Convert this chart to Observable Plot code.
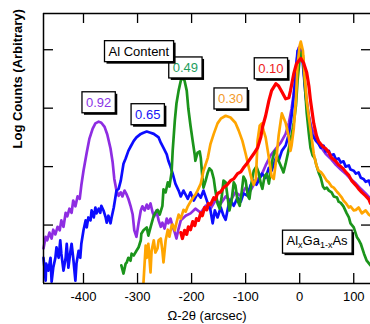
<!DOCTYPE html>
<html><head><meta charset="utf-8">
<script src="https://cdn.jsdelivr.net/npm/d3@7"></script>
<script src="https://cdn.jsdelivr.net/npm/@observablehq/plot@0.6"></script>
<style>
html,body{margin:0;padding:0;background:#fff;}
</style>
</head><body>
<div id="chart"></div>
<script>
// ---- data (arcsec, log counts) ----
const compositions = ["0.92", "0.65", "0.49", "0.30", "0.10"];

const al092 = [[-474,0.60],[-470,0.80],[-467,0.74],[-463,0.87],[-459,0.77],[-456,0.92],[-452,0.84],[-448,0.97],[-444,0.91],[-441,1.08],[-437,0.97],[-433,1.21],[-430,1.15],[-426,1.28],[-422,1.21],[-419,1.42],[-415,1.32],[-411,1.49],[-407,1.45],[-404,1.68],[-400,1.93],[-394,2.24],[-389,2.48],[-383,2.65],[-378,2.74],[-372,2.77],[-367,2.75],[-361,2.68],[-356,2.55],[-350,2.31],[-346,2.07],[-343,1.79],[-339,1.59],[-335,1.50],[-331,1.56],[-328,1.49],[-324,1.59],[-320,1.52],[-317,1.45],[-313,1.33],[-309,1.18],[-306,0.91],[-302,0.80],[-298,1.04],[-294,1.25],[-291,1.32],[-287,1.25],[-283,1.35],[-280,1.28],[-276,1.37],[-272,1.21],[-269,1.15],[-265,1.25],[-261,1.08],[-257,0.97],[-254,1.04],[-250,0.94],[-246,1.11],[-243,1.03],[-239,1.11],[-235,0.97],[-231,0.87],[-228,0.77],[-224,0.94],[-220,1.08],[-211,1.16],[-202,1.20],[-193,1.28],[-183,1.21],[-174,1.33],[-165,1.28],[-156,1.42],[-146,1.37],[-137,1.49],[-128,1.42],[-119,1.56],[-109,1.50],[-100,1.64],[-91,1.59],[-81,1.76],[-72,1.83],[-63,2.02],[-54,2.19],[-44,2.31],[-35,2.41],[-26,2.56],[-20,2.75],[-15,2.99],[-9,3.38],[-6,3.78],[-2,4.03],[2,4.07],[6,3.85],[9,3.47],[13,3.13],[17,2.87],[20,2.72],[26,2.56],[31,2.46],[39,2.34],[48,2.22],[57,2.14],[67,2.03],[76,1.95],[85,1.88],[94,1.79],[104,1.71],[113,1.62],[122,1.54],[131,1.45]];

const al065 = [[-474,0.44],[-470,0.05],[-469,0.34],[-465,0.22],[-461,0.44],[-459,0.03],[-456,0.27],[-452,0.44],[-450,0.62],[-446,0.44],[-443,0.74],[-441,0.51],[-437,0.22],[-433,0.44],[-431,0.68],[-428,0.27],[-424,0.56],[-422,0.68],[-419,0.44],[-415,0.05],[-413,0.34],[-409,0.56],[-406,0.44],[-404,0.68],[-400,0.91],[-396,1.08],[-394,0.96],[-391,1.13],[-387,1.08],[-385,1.25],[-381,1.13],[-378,1.30],[-376,1.20],[-372,1.28],[-369,1.21],[-367,1.33],[-363,1.25],[-359,1.13],[-357,1.04],[-354,1.16],[-350,1.03],[-348,1.13],[-344,1.30],[-341,1.47],[-339,1.59],[-335,1.62],[-331,1.76],[-326,2.05],[-322,2.14],[-317,2.27],[-313,2.34],[-307,2.44],[-302,2.50],[-294,2.56],[-289,2.58],[-283,2.60],[-276,2.58],[-270,2.56],[-261,2.50],[-257,2.41],[-252,2.32],[-246,2.21],[-243,2.10],[-239,2.00],[-235,1.88],[-230,1.71],[-224,1.59],[-220,1.49],[-215,1.59],[-207,1.45],[-202,1.56],[-196,1.42],[-189,1.54],[-183,1.47],[-178,1.59],[-170,1.37],[-165,1.25],[-161,1.03],[-157,1.25],[-152,1.13],[-146,1.30],[-141,1.16],[-137,1.09],[-131,1.37],[-128,1.42],[-122,1.33],[-115,1.47],[-109,1.40],[-104,1.54],[-96,1.50],[-91,1.68],[-85,1.76],[-80,1.69],[-76,1.76],[-70,1.88],[-63,1.81],[-57,1.98],[-52,1.93],[-44,2.15],[-39,2.10],[-33,2.27],[-26,2.36],[-20,2.56],[-15,2.87],[-11,3.21],[-7,3.64],[-4,3.98],[0,4.03],[4,3.95],[7,3.64],[11,3.21],[15,2.92],[19,2.75],[22,2.56],[30,2.44],[35,2.39],[39,2.32],[44,2.36],[48,2.26],[54,2.27],[57,2.19],[63,2.21],[67,2.12],[72,2.14],[76,2.07],[81,2.09],[85,2.00],[91,2.02],[94,1.95],[100,1.93],[104,1.88],[109,1.90],[113,1.81],[118,1.79],[122,1.74],[128,1.76],[131,1.68]];

const al049 = [[-330,0.31],[-326,0.17],[-322,0.34],[-320,0.36],[-317,0.44],[-313,0.39],[-311,0.51],[-307,0.48],[-302,0.56],[-298,0.62],[-294,0.74],[-293,0.85],[-289,0.91],[-283,0.96],[-280,0.82],[-276,0.96],[-270,1.16],[-267,1.21],[-263,1.26],[-259,1.18],[-254,1.33],[-252,1.61],[-248,1.56],[-244,1.73],[-241,1.66],[-237,1.90],[-235,2.27],[-231,2.79],[-228,3.08],[-224,3.30],[-220,3.47],[-217,3.52],[-213,3.47],[-209,3.30],[-206,2.99],[-202,2.70],[-198,2.44],[-194,2.19],[-193,2.10],[-189,2.24],[-185,2.26],[-183,2.15],[-180,1.81],[-178,1.64],[-174,1.76],[-170,1.90],[-167,1.97],[-163,1.93],[-159,1.79],[-156,1.59],[-152,1.37],[-148,1.28],[-144,1.50],[-141,1.76],[-137,1.73],[-133,1.45],[-130,1.25],[-126,1.42],[-122,1.73],[-119,1.68],[-115,1.42],[-111,1.33],[-107,1.59],[-104,1.83],[-100,1.76],[-96,1.50],[-93,1.45],[-89,1.73],[-85,1.93],[-80,2.00],[-76,1.90],[-72,1.71],[-69,1.62],[-65,1.83],[-61,1.88],[-57,1.71],[-54,1.90],[-50,2.14],[-46,2.27],[-43,2.24],[-39,2.10],[-33,1.97],[-30,1.90],[-26,2.05],[-22,2.22],[-19,2.36],[-15,2.53],[-11,2.75],[-7,3.04],[-4,3.47],[0,3.85],[2,3.95],[6,3.90],[9,3.47],[13,2.92],[17,2.56],[20,2.32],[24,2.19],[28,2.14],[31,2.02],[35,1.90],[39,1.81],[43,1.66],[46,1.62],[50,1.64],[54,1.59],[59,1.56],[63,1.49],[69,1.47],[72,1.40],[76,1.38],[81,1.32],[87,1.20],[91,1.13],[94,1.03],[100,0.96],[106,0.79],[109,0.75],[113,0.68],[119,0.51],[124,0.39],[131,0.31]];

const al030 = [[-289,0.02],[-285,0.65],[-283,0.44],[-280,0.68],[-276,0.19],[-274,0.56],[-270,0.74],[-267,0.53],[-263,0.60],[-261,0.74],[-257,0.77],[-254,0.56],[-252,0.36],[-248,0.74],[-244,0.92],[-241,0.80],[-237,0.99],[-235,1.01],[-231,0.91],[-228,1.04],[-224,1.18],[-220,1.11],[-215,1.26],[-211,1.23],[-207,1.32],[-202,1.40],[-196,1.49],[-193,1.52],[-189,1.59],[-183,1.71],[-178,1.93],[-170,2.15],[-165,2.39],[-159,2.56],[-152,2.74],[-146,2.82],[-137,2.87],[-128,2.84],[-119,2.75],[-113,2.62],[-106,2.44],[-100,2.22],[-94,1.98],[-89,1.79],[-85,1.69],[-81,1.79],[-78,2.44],[-74,2.70],[-70,2.74],[-67,2.62],[-63,2.50],[-57,2.15],[-52,1.83],[-48,1.79],[-43,2.15],[-39,2.53],[-35,2.79],[-33,2.91],[-30,2.84],[-26,2.75],[-20,2.50],[-17,2.27],[-15,2.36],[-11,2.65],[-7,3.13],[-4,3.73],[0,4.07],[2,4.14],[6,3.98],[9,3.56],[13,3.13],[17,2.84],[22,2.50],[26,2.22],[31,2.02],[35,1.93],[39,1.91],[44,1.85],[50,1.76],[54,1.73],[59,1.66],[63,1.64],[69,1.57],[72,1.54],[78,1.47],[81,1.42],[85,1.38],[91,1.30],[94,1.32],[100,1.25],[104,1.26],[109,1.30],[115,1.20],[119,1.23],[122,1.25],[128,1.18],[131,1.16]];

const al010 = [[-220,0.87],[-217,0.77],[-213,0.91],[-209,0.84],[-206,0.97],[-202,0.92],[-198,1.06],[-194,0.99],[-191,1.11],[-187,1.08],[-183,1.21],[-180,1.16],[-176,1.30],[-172,1.26],[-169,1.37],[-165,1.35],[-159,1.47],[-156,1.44],[-152,1.54],[-146,1.57],[-141,1.64],[-135,1.68],[-128,1.76],[-122,1.79],[-115,1.88],[-109,1.91],[-104,1.98],[-98,2.05],[-91,2.14],[-85,2.22],[-78,2.32],[-72,2.50],[-69,2.67],[-63,2.87],[-57,3.13],[-52,3.30],[-44,3.42],[-39,3.38],[-33,3.28],[-26,3.16],[-20,3.18],[-17,3.30],[-11,3.59],[-6,3.76],[2,3.85],[7,3.78],[13,3.61],[17,3.38],[20,3.13],[26,2.74],[31,2.53],[35,2.43],[43,2.34],[48,2.31],[54,2.24],[59,2.15],[67,2.09],[72,2.03],[80,1.97],[85,1.91],[91,1.85],[96,1.76],[104,1.68],[109,1.62],[115,1.56],[122,1.50],[128,1.44],[131,1.37]];

const xTicks = [-400, -300, -200, -100, 0, 100];
const yTicks = [1, 2, 3, 4];
const xLabel = "Ω-2θ (arcsec)";
const yLabel = "Log Counts (Arbitrary)";
const legendTitle = "Al Content";
const alloyLabel = "AlxGa1-xAs";

// ---- styles / layout ----
const lineColors = ["#8e2de2", "#0c0cff", "#1b941b", "#ffa500", "#ff0000"];
const labelColors = ["#8a35e6", "#1515f5", "#1f9e5e", "#f39a2b", "#ee1c1c"];
const lineWidths = [2.7, 2.7, 2.7, 2.7, 3.2];
const labelOffsets = [[0, -19], [1, -17], [3, -10], [5, -17], [-5, -15]];
const xDomain = [-474, 131], yDomain = [0, 4.62];
const W = 370, H = 324, mL = 43, mR = 0, mT = 13, mB = 41;
const fw = W - mL - mR, fh = H - mT - mB;
const FONT = "'Liberation Sans', Arial, Helvetica, sans-serif";

const seriesPts = [al092, al065, al049, al030, al010];
const marks = [];
seriesPts.forEach((pts, i) => {
  marks.push(Plot.line(pts, {x: d => d[0], y: d => d[1], stroke: lineColors[i],
    strokeWidth: lineWidths[i], strokeLinejoin: "round", strokeLinecap: "round"}));
});
// frame (left, bottom, top)
marks.push(Plot.ruleX([xDomain[0]], {stroke: "black", strokeWidth: 1.5}));
marks.push(Plot.ruleY([yDomain[0], yDomain[1]], {stroke: "black", strokeWidth: 1.5}));
// inward ticks
marks.push(Plot.ruleX(xTicks, {insetTop: fh - 10, stroke: "black", strokeWidth: 1.3}));
marks.push(Plot.ruleX(xTicks, {insetBottom: fh - 10, stroke: "black", strokeWidth: 1.3}));
marks.push(Plot.ruleY(yTicks, {insetRight: fw - 10, stroke: "black", strokeWidth: 1.3}));
marks.push(Plot.ruleY(yTicks, {insetLeft: fw - 9, stroke: "black", strokeWidth: 1.3}));
marks.push(Plot.axisX({ticks: xTicks, tickSize: 0, tickPadding: 8, tickFormat: d => String(d),
  label: null, fontSize: 13, fill: "black"}));
// axis titles
marks.push(Plot.text([xLabel], {text: d => d, frameAnchor: "bottom", lineAnchor: "middle", dy: 32,
  fontSize: 13, fill: "black"}));
marks.push(Plot.text([yLabel], {text: d => d, frameAnchor: "left", lineAnchor: "middle", dx: -26, rotate: -90,
  fontSize: 13, fontWeight: "bold", fill: "black"}));
// composition labels at layer peaks
seriesPts.forEach((pts, i) => {
  const pk = d3.greatest(pts.filter(p => p[0] < -40), p => p[1]);
  marks.push(Plot.text([pk], {x: d => d[0], y: d => d[1], text: () => compositions[i],
    dx: labelOffsets[i][0], dy: labelOffsets[i][1], fill: labelColors[i], fontSize: 13, lineAnchor: "middle"}));
});
marks.push(Plot.text([legendTitle], {text: d => d, frameAnchor: "top-left", lineAnchor: "middle", dx: 65, dy: 38,
  fontSize: 13, fill: "black"}));
marks.push(Plot.text([alloyLabel], {text: d => d, frameAnchor: "bottom-left", lineAnchor: "middle", dx: 243, dy: -42.5,
  fontSize: 13, fill: "black"}));

const chart = Plot.plot({
  width: W, height: H,
  marginLeft: mL, marginRight: mR, marginTop: mT, marginBottom: mB,
  x: {domain: xDomain},
  y: {domain: yDomain, axis: null},
  style: {fontFamily: FONT, fontSize: "13px", background: "white", color: "black", overflow: "visible"},
  marks
});
document.getElementById("chart").append(chart);

const NS = "http://www.w3.org/2000/svg";
const allTexts = Array.from(chart.querySelectorAll("text"));

// subscripts for AlxGa1-xAs
allTexts.filter(t => t.textContent === alloyLabel).forEach(t => {
  t.textContent = "";
  const parts = [["Al", 0, null], ["x", 3, 9], ["Ga", -3, null], ["1-x", 3, 9], ["As", -3, null]];
  parts.forEach(([s, dy, fs]) => {
    const ts = document.createElementNS(NS, "tspan");
    ts.textContent = s;
    if (dy) ts.setAttribute("dy", dy);
    if (fs) ts.setAttribute("font-size", fs);
    t.appendChild(ts);
  });
});

// white boxes with drop shadows behind annotation labels
const boxed = new Set([...compositions, legendTitle, alloyLabel]);
allTexts.filter(t => boxed.has(t.textContent)).forEach(t => {
  const b = t.getBBox();
  const padX = 4, padY = 3;
  const tr = t.getAttribute("transform");
  const mk = (ox, oy, fill, stroke) => {
    const r = document.createElementNS(NS, "rect");
    r.setAttribute("x", b.x - padX + ox);
    r.setAttribute("y", b.y - padY + oy);
    r.setAttribute("width", b.width + 2 * padX);
    r.setAttribute("height", b.height + 2 * padY);
    r.setAttribute("fill", fill);
    r.setAttribute("stroke", stroke);
    r.setAttribute("stroke-width", 1.3);
    if (tr) r.setAttribute("transform", tr);
    t.parentNode.insertBefore(r, t);
  };
  mk(2, 2, "black", "none");
  mk(0, 0, "white", "black");
});
</script>
</body></html>
